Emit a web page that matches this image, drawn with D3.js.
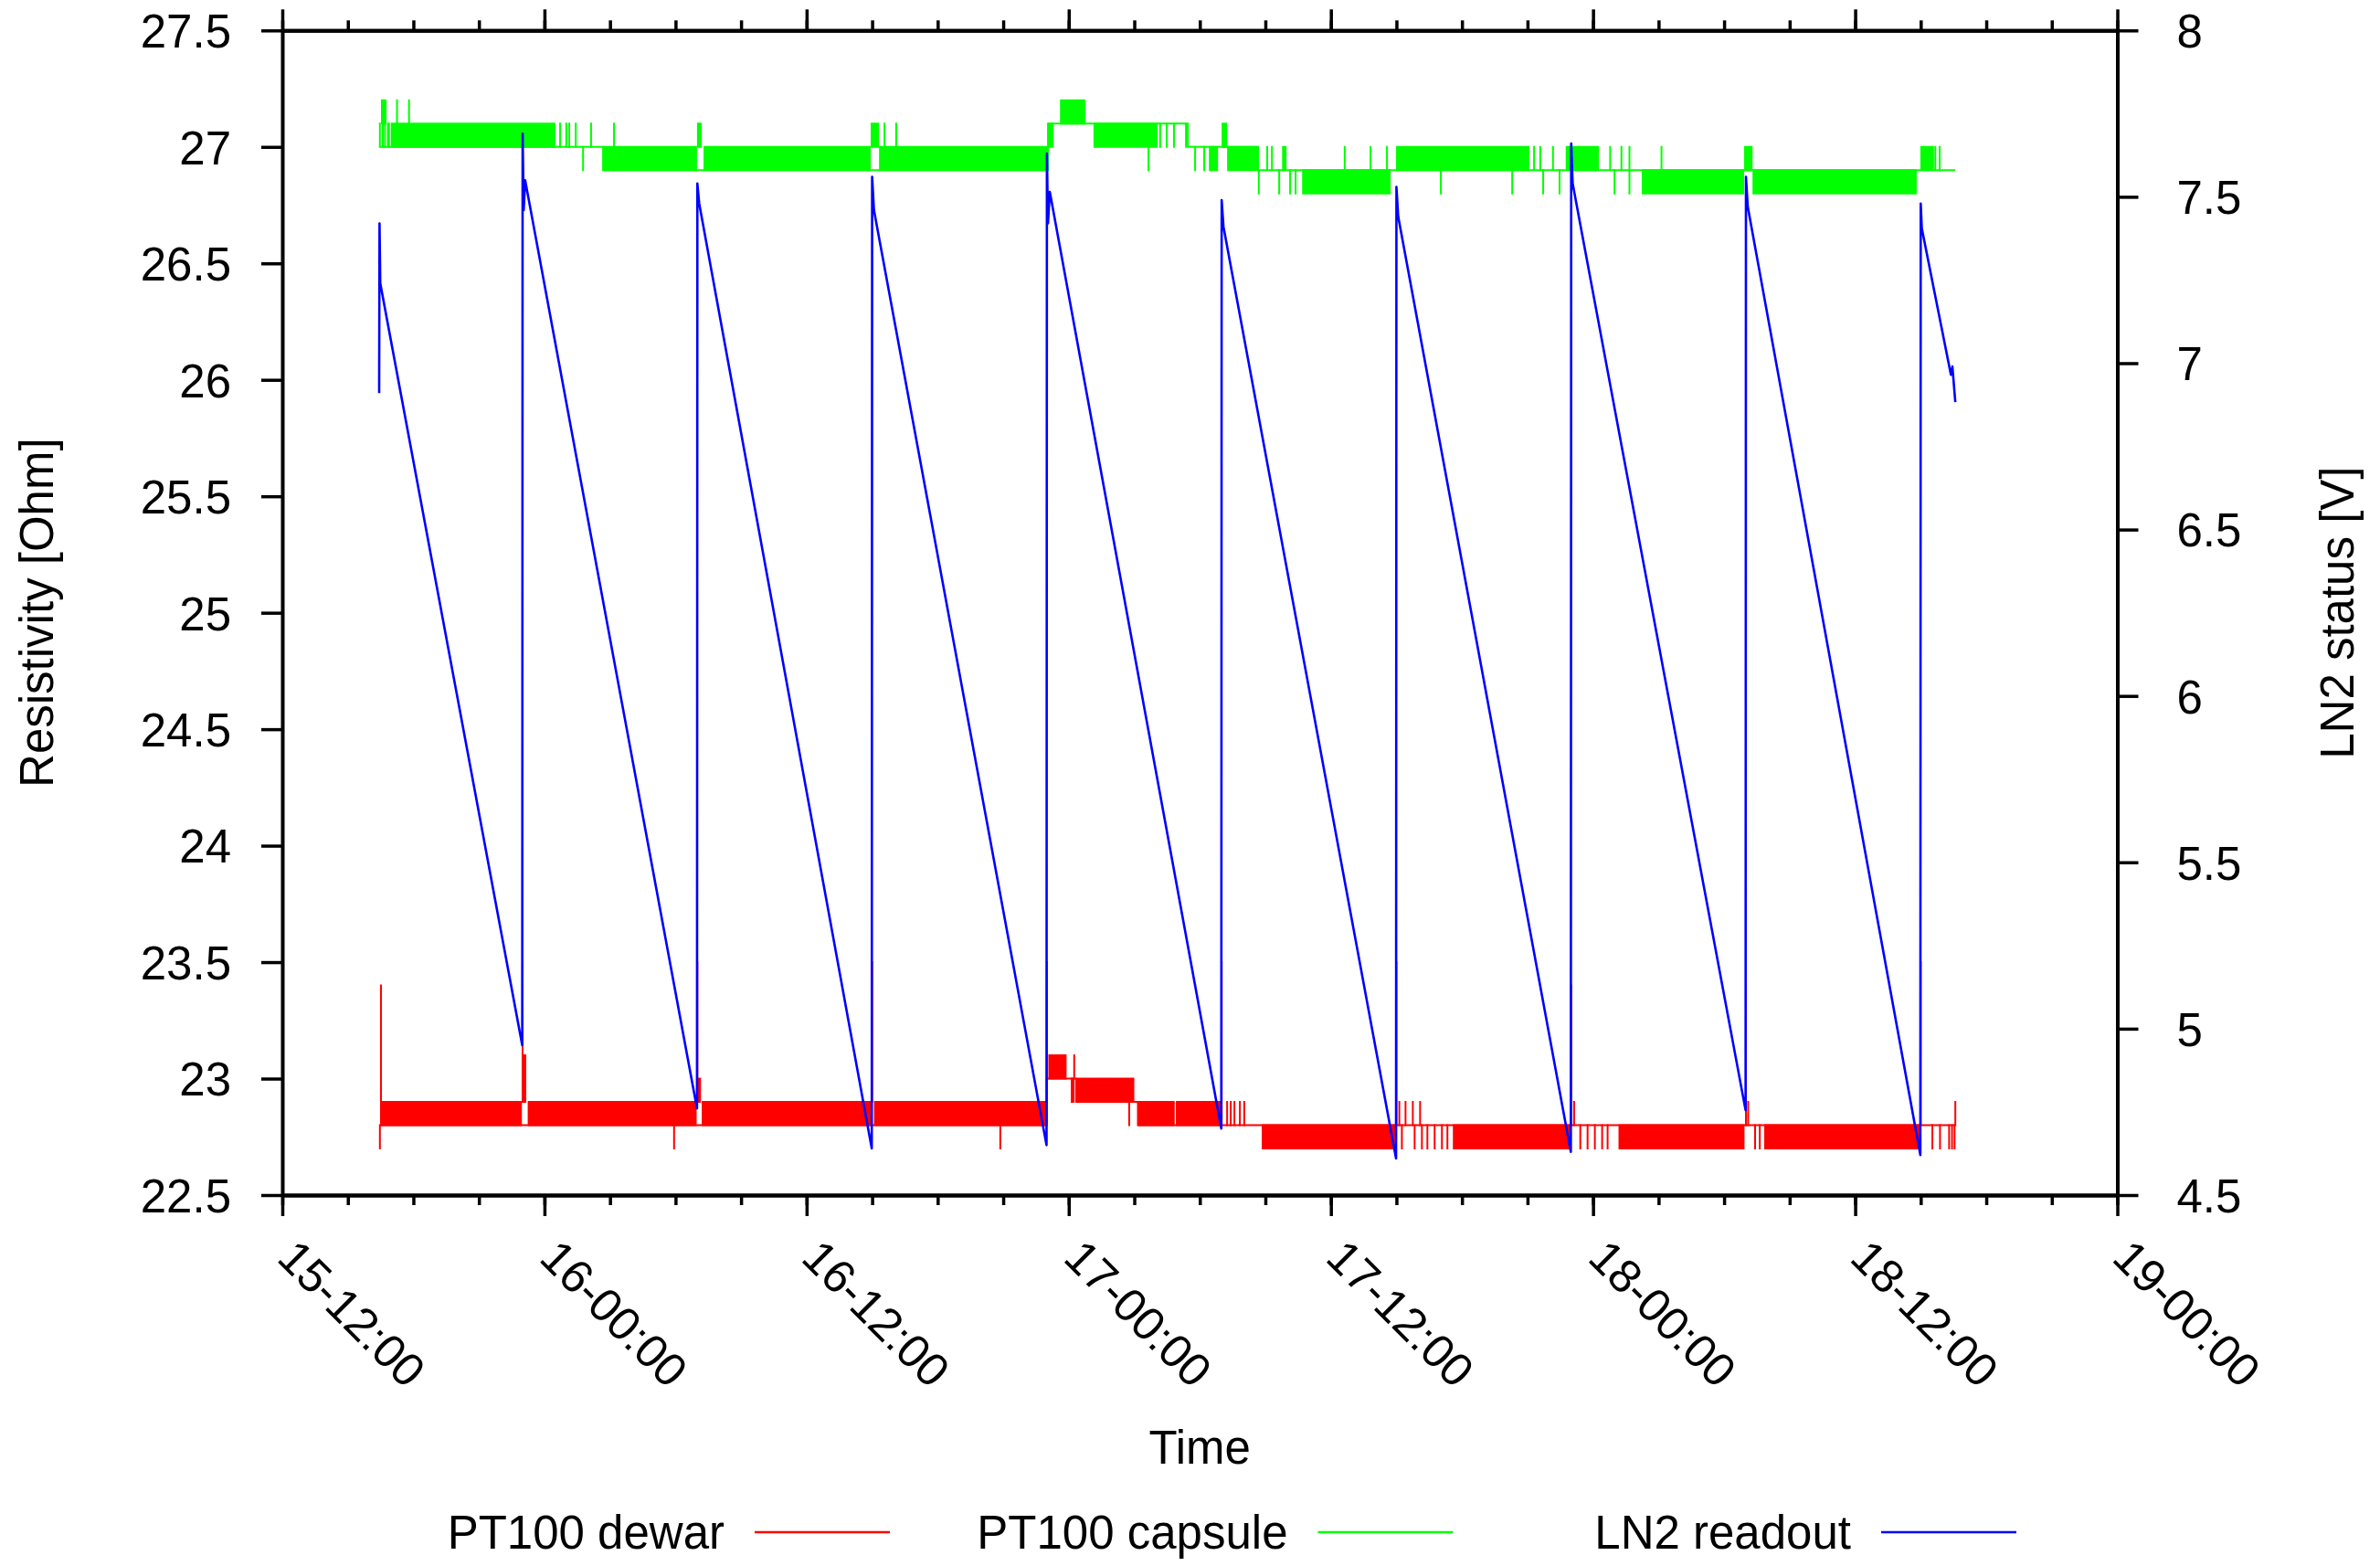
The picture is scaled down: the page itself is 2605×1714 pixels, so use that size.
<!DOCTYPE html>
<html>
<head>
<meta charset="utf-8">
<script src="https://cdn.jsdelivr.net/npm/d3@7"></script>
<style>
  body { margin: 0; background: #fff; }
  svg { display: block; }
  text { font-family: "Liberation Sans", Arial, Helvetica, sans-serif; fill: #000; }
</style>
</head>
<body>
<svg id="chart" width="2605" height="1714"></svg>
<script>
// ---- axis ticks ----
const xTickLabels = ["15 12:00", "16 00:00", "16 12:00", "17 00:00", "17 12:00", "18 00:00", "18 12:00", "19 00:00"];
const leftTicks  = [22.5, 23, 23.5, 24, 24.5, 25, 25.5, 26, 26.5, 27, 27.5];
const rightTicks = [4.5, 5, 5.5, 6, 6.5, 7, 7.5, 8];

// ---- LN2 level readout [V], right axis ----
const ln2Readout = [
  ["15 16:26", 6.91], ["15 16:27", 7.42], ["15 16:29", 7.24],
  ["15 22:59", 4.95],
  ["15 23:00", 7.69], ["15 23:03", 7.46], ["15 23:07", 7.55],
  ["16 06:59", 4.76],
  ["16 07:00", 7.54], ["16 07:05", 7.48],
  ["16 14:59", 4.64],
  ["16 15:00", 7.56], ["16 15:05", 7.46],
  ["16 22:59", 4.65],
  ["16 23:00", 7.63], ["16 23:03", 7.42], ["16 23:08", 7.515],
  ["17 06:59", 4.70],
  ["17 07:00", 7.49], ["17 07:05", 7.41],
  ["17 14:59", 4.61],
  ["17 15:00", 7.53], ["17 15:05", 7.44],
  ["17 22:59", 4.63],
  ["17 23:00", 7.66], ["17 23:04", 7.54],
  ["18 06:59", 4.755],
  ["18 07:00", 7.56], ["18 07:05", 7.47],
  ["18 14:59", 4.62],
  ["18 15:00", 7.48], ["18 15:03", 7.405],
  ["18 16:23", 6.965], ["18 16:27", 6.99], ["18 16:35", 6.883]
];

// ---- PT100 capsule [Ohm]: resting level, flickering bands, single flicks ----
const capsuleLevel = [
  ["15 16:28", 27.0], ["16 02:41", 26.9], ["16 23:03", 27.1],
  ["17 05:27", 27.0], ["17 08:40", 26.9], ["18 16:35", 26.9]
];
const capsuleBands = [
  ["15 16:31", "15 16:46", 27.1, 27.2],
  ["15 16:58", "16 00:30", 27.0, 27.1],
  ["16 02:41", "16 06:59", 26.9, 27.0],
  ["16 06:59", "16 07:12", 27.0, 27.1],
  ["16 07:17", "16 14:56", 26.9, 27.0],
  ["16 14:56", "16 15:19", 27.0, 27.1],
  ["16 15:19", "16 23:03", 26.9, 27.0],
  ["16 23:03", "16 23:18", 27.0, 27.1],
  ["16 23:36", "17 00:46", 27.1, 27.2],
  ["17 01:08", "17 04:04", 27.0, 27.1],
  ["17 06:25", "17 06:50", 26.9, 27.0],
  ["17 07:00", "17 07:15", 27.0, 27.1],
  ["17 07:15", "17 08:40", 26.9, 27.0],
  ["17 09:46", "17 09:58", 26.9, 27.0],
  ["17 10:41", "17 14:44", 26.8, 26.9],
  ["17 14:59", "17 21:05", 26.9, 27.0],
  ["17 22:45", "18 00:16", 26.9, 27.0],
  ["18 02:14", "18 06:55", 26.8, 26.9],
  ["18 06:55", "18 07:18", 26.9, 27.0],
  ["18 07:18", "18 14:49", 26.8, 26.9],
  ["18 14:59", "18 15:36", 26.9, 27.0]
];
const capsuleFlicks = [
  ["15 16:28", 27.0, 27.1], ["15 16:36", 27.0, 27.1], ["15 16:42", 27.0, 27.1],
  ["15 16:50", 27.0, 27.1], ["15 16:53", 27.0, 27.1],
  ["15 17:15", 27.1, 27.2], ["15 17:48", 27.1, 27.2],
  ["16 00:43", 27.0, 27.1], ["16 01:00", 27.0, 27.1], ["16 01:08", 27.0, 27.1],
  ["16 01:26", 27.0, 27.1], ["16 02:08", 27.0, 27.1], ["16 01:46", 26.9, 27.0],
  ["16 03:11", 26.9, 27.1],
  ["16 15:34", 27.0, 27.1], ["16 16:06", 27.0, 27.1],
  ["17 03:39", 26.9, 27.0], ["17 04:11", 27.0, 27.1], ["17 04:29", 27.0, 27.1],
  ["17 04:49", 27.0, 27.1], ["17 05:22", 27.0, 27.1],
  ["17 05:47", 26.9, 27.0], ["17 06:12", 26.9, 27.0],
  ["17 08:42", 26.8, 26.9], ["17 09:05", 26.9, 27.0], ["17 09:18", 26.9, 27.0],
  ["17 09:38", 26.8, 26.9], ["17 10:08", 26.8, 26.9], ["17 10:23", 26.8, 26.9],
  ["17 12:38", 26.9, 27.0], ["17 13:49", 26.9, 27.0], ["17 14:34", 26.9, 27.0],
  ["17 17:02", 26.8, 26.9], ["17 20:18", 26.8, 26.9], ["17 21:18", 26.9, 27.0],
  ["17 21:35", 26.9, 27.0], ["17 21:43", 26.8, 26.9], ["17 22:10", 26.9, 27.0],
  ["17 22:28", 26.8, 26.9],
  ["18 00:47", 26.9, 27.0], ["18 00:59", 26.8, 26.9], ["18 01:18", 26.9, 27.0],
  ["18 01:40", 26.8, 27.0], ["18 03:08", 26.9, 27.0],
  ["18 15:40", 26.9, 27.0], ["18 15:52", 26.9, 27.0]
];

// ---- PT100 dewar [Ohm] ----
const dewarLevel = [
  ["15 16:28", 22.8], ["16 23:00", 23.0], ["17 00:20", 22.9],
  ["17 03:10", 22.8], ["18 16:35", 22.8]
];
const dewarBands = [
  ["15 16:33", "15 22:58", 22.8, 22.9],
  ["15 23:01", "15 23:10", 22.9, 23.1],
  ["15 23:14", "16 06:58", 22.8, 22.9],
  ["16 07:01", "16 07:10", 22.9, 23.0],
  ["16 07:12", "16 14:58", 22.8, 22.9],
  ["16 15:05", "16 22:58", 22.8, 22.9],
  ["16 23:04", "16 23:54", 23.0, 23.1],
  ["17 00:20", "17 03:00", 22.9, 23.0],
  ["17 03:10", "17 04:51", 22.8, 22.9],
  ["17 04:54", "17 06:58", 22.8, 22.9],
  ["17 08:50", "17 14:57", 22.7, 22.8],
  ["17 17:35", "17 22:56", 22.7, 22.8],
  ["18 01:10", "18 06:56", 22.7, 22.8],
  ["18 07:50", "18 14:57", 22.7, 22.8]
];
const dewarFlicks = [
  ["15 16:28", 22.7, 22.8], ["15 16:31", 22.8, 23.4],
  ["15 23:00", 22.9, 23.5],
  ["16 05:56", 22.7, 22.8],
  ["16 07:00", 22.9, 23.5],
  ["16 15:00", 22.9, 23.5],
  ["16 20:52", 22.7, 22.8],
  ["16 23:00", 22.9, 23.5],
  ["17 00:08", 22.9, 23.0], ["17 00:13", 22.9, 23.0], ["17 00:15", 23.0, 23.1],
  ["17 02:46", 22.8, 22.9],
  ["17 07:00", 22.8, 23.5],
  ["17 07:15", 22.8, 22.9], ["17 07:25", 22.8, 22.9], ["17 07:35", 22.8, 22.9],
  ["17 07:50", 22.8, 22.9], ["17 08:02", 22.8, 22.9],
  ["17 15:00", 22.8, 23.5],
  ["17 15:08", 22.8, 22.9], ["17 15:25", 22.8, 22.9], ["17 15:45", 22.8, 22.9], ["17 16:05", 22.8, 22.9],
  ["17 15:15", 22.7, 22.8], ["17 15:50", 22.7, 22.8], ["17 16:10", 22.7, 22.8],
  ["17 16:25", 22.7, 22.8], ["17 16:45", 22.7, 22.8], ["17 17:05", 22.7, 22.8], ["17 17:20", 22.7, 22.8],
  ["17 23:00", 22.8, 23.4], ["17 23:08", 22.8, 22.9],
  ["17 23:25", 22.7, 22.8], ["17 23:45", 22.7, 22.8], ["18 00:05", 22.7, 22.8],
  ["18 00:25", 22.7, 22.8], ["18 00:40", 22.7, 22.8],
  ["18 07:00", 22.8, 23.4], ["18 07:06", 22.8, 22.9], ["18 07:25", 22.7, 22.8], ["18 07:38", 22.7, 22.8],
  ["18 15:00", 22.8, 23.5],
  ["18 15:32", 22.7, 22.8], ["18 15:53", 22.7, 22.8], ["18 16:18", 22.7, 22.8],
  ["18 16:26", 22.7, 22.8], ["18 16:33", 22.7, 22.8], ["18 16:35", 22.8, 22.9]
];

const seriesNames  = ["PT100 dewar", "PT100 capsule", "LN2 readout"];
const seriesColors = ["#ff0000", "#00ff00", "#0000ff"];

// ---- layout ----
const W = 2605, H = 1714;
const plot = { left: 309, right: 2317.5, top: 33.3, bottom: 1308 };
const parse = d3.utcParse("%d %H:%M");
const fmt = d3.utcFormat("%d-%H:%M");

const x = d3.scaleUtc()
  .domain([parse("15 12:00"), parse("19 00:00")])
  .range([plot.left, plot.right]);
const yL = d3.scaleLinear().domain([22.5, 27.5]).range([plot.bottom, plot.top]);
const yR = d3.scaleLinear().domain([4.5, 8]).range([plot.bottom, plot.top]);

const svg = d3.select("#chart");
svg.append("rect").attr("width", W).attr("height", H).attr("fill", "#fff");

svg.append("defs").append("clipPath").attr("id", "plotClip")
  .append("rect")
  .attr("x", plot.left).attr("y", plot.top)
  .attr("width", plot.right - plot.left).attr("height", plot.bottom - plot.top);

const data = svg.append("g").attr("clip-path", "url(#plotClip)");

// flickering readout: solid band + single flicks + resting step line
function drawFlicker(level, bands, flicks, color) {
  const g = data.append("g");
  g.selectAll("rect").data(bands).join("rect")
    .attr("x", d => x(parse(d[0])))
    .attr("width", d => Math.max(1, x(parse(d[1])) - x(parse(d[0]))))
    .attr("y", d => yL(d[3]) - 1)
    .attr("height", d => yL(d[2]) - yL(d[3]) + 2)
    .attr("fill", color);
  g.selectAll("line").data(flicks).join("line")
    .attr("x1", d => x(parse(d[0]))).attr("x2", d => x(parse(d[0])))
    .attr("y1", d => yL(d[1]) + 1).attr("y2", d => yL(d[2]) - 1)
    .attr("stroke", color).attr("stroke-width", 2);
  g.append("path")
    .datum(level)
    .attr("d", d3.line().curve(d3.curveStepAfter)
      .x(d => x(parse(d[0]))).y(d => yL(d[1])))
    .attr("fill", "none").attr("stroke", color).attr("stroke-width", 2);
}

drawFlicker(dewarLevel, dewarBands, dewarFlicks, seriesColors[0]);
drawFlicker(capsuleLevel, capsuleBands, capsuleFlicks, seriesColors[1]);

data.append("path")
  .datum(ln2Readout)
  .attr("d", d3.line().x(d => x(parse(d[0]))).y(d => yR(d[1])))
  .attr("fill", "none")
  .attr("stroke", seriesColors[2])
  .attr("stroke-width", 2.6)
  .attr("stroke-linejoin", "round");

// ---- axes ----
const axisStroke = 4, tickStroke = 3.5, fontSize = 51;
const minorTimes = d3.utcHour.every(3).range(x.domain()[0], d3.utcHour.offset(x.domain()[1], 1));
const majorTimes = xTickLabels.map(parse);

function styleAxis(g) {
  g.select(".domain").attr("stroke", "#000").attr("stroke-width", axisStroke);
  g.selectAll(".tick line").attr("stroke", "#000").attr("stroke-width", tickStroke);
  g.selectAll(".tick text").attr("font-size", fontSize).attr("fill", "#000");
}

// bottom: minor then major
svg.append("g").attr("transform", `translate(0,${plot.bottom})`)
  .call(d3.axisBottom(x).tickValues(minorTimes).tickSize(11).tickSizeOuter(0).tickFormat(""))
  .call(styleAxis);
const bottomMajor = svg.append("g").attr("transform", `translate(0,${plot.bottom})`)
  .call(d3.axisBottom(x).tickValues(majorTimes).tickSize(23).tickSizeOuter(0).tickFormat(fmt))
  .call(styleAxis);
bottomMajor.selectAll(".tick text")
  .attr("text-anchor", "start")
  .attr("x", 0).attr("y", 0).attr("dy", 0)
  .attr("transform", "translate(-8,71) rotate(45)");

// top mirror ticks
svg.append("g").attr("transform", `translate(0,${plot.top})`)
  .call(d3.axisTop(x).tickValues(minorTimes).tickSize(11).tickSizeOuter(0).tickFormat(""))
  .call(styleAxis);
svg.append("g").attr("transform", `translate(0,${plot.top})`)
  .call(d3.axisTop(x).tickValues(majorTimes).tickSize(23).tickSizeOuter(0).tickFormat(""))
  .call(styleAxis);

// left / right
svg.append("g").attr("transform", `translate(${plot.left},0)`)
  .call(d3.axisLeft(yL).tickValues(leftTicks).tickSize(23).tickPadding(33).tickSizeOuter(0).tickFormat(d3.format("")))
  .call(styleAxis)
  .selectAll(".tick text").attr("dy", "0.36em");
svg.append("g").attr("transform", `translate(${plot.right},0)`)
  .call(d3.axisRight(yR).tickValues(rightTicks).tickSize(23).tickPadding(42).tickSizeOuter(0).tickFormat(d3.format("")))
  .call(styleAxis)
  .selectAll(".tick text").attr("dy", "0.36em");

// ---- axis titles ----
svg.append("text")
  .attr("x", (plot.left + plot.right) / 2).attr("y", 1602)
  .attr("text-anchor", "middle").attr("font-size", fontSize)
  .text("Time");
svg.append("text")
  .attr("transform", `translate(58,${(plot.top + plot.bottom) / 2}) rotate(-90)`)
  .attr("text-anchor", "middle").attr("font-size", fontSize)
  .text("Resistivity [Ohm]");
svg.append("text")
  .attr("transform", `translate(2576,${(plot.top + plot.bottom) / 2}) rotate(-90)`)
  .attr("text-anchor", "middle").attr("font-size", fontSize)
  .text("LN2 status [V]");

// ---- legend ----
const legend = svg.append("g");
seriesNames.forEach((name, i) => {
  const lx = 826 + i * 616.5, ly = 1677;
  legend.append("text")
    .attr("x", lx - 33).attr("y", ly + 18)
    .attr("text-anchor", "end").attr("font-size", fontSize)
    .text(name);
  legend.append("line")
    .attr("x1", lx).attr("x2", lx + 148)
    .attr("y1", ly).attr("y2", ly)
    .attr("stroke", seriesColors[i]).attr("stroke-width", 2.6);
});
</script>
</body>
</html>
